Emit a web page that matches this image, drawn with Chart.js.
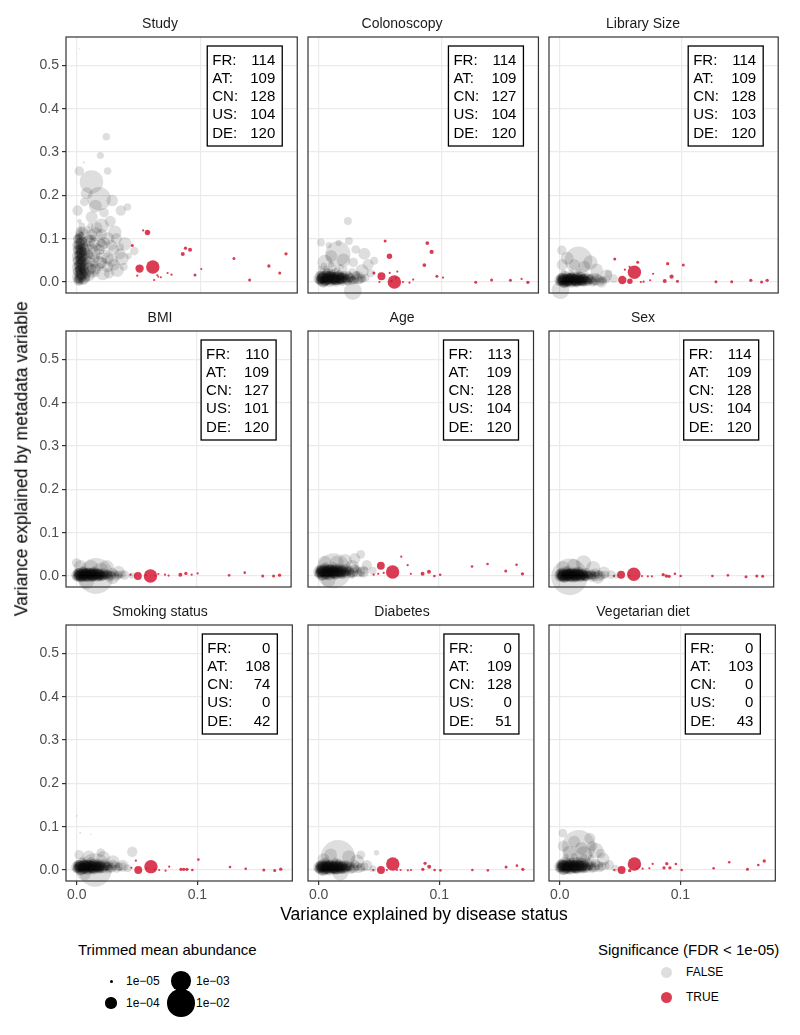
<!DOCTYPE html>
<html>
<head>
<meta charset="utf-8">
<script src="https://cdn.jsdelivr.net/npm/chart.js@4.4.0/dist/chart.umd.min.js"></script>
<style>
  body { margin: 0; background: #fff; font-family: "Liberation Sans", Arial, sans-serif; }
  #wrap { position: relative; width: 800px; height: 1035px; overflow: hidden; }
  #wrap canvas { position: absolute; }
  .txt { position: absolute; white-space: nowrap; color: #000; }
  .dot { position: absolute; border-radius: 50%; }
</style>
</head>
<body>
<div id="wrap"></div>
<script>
// ---- data ----
const panelTitles = ["Study", "Colonoscopy", "Library Size", "BMI", "Age", "Sex",
                     "Smoking status", "Diabetes", "Vegetarian diet"];
const countLabels = ["FR:", "AT:", "CN:", "US:", "DE:"];
const panelCounts = [
  [114, 109, 128, 104, 120], [114, 109, 127, 104, 120], [114, 109, 128, 103, 120],
  [110, 109, 127, 101, 120], [113, 109, 128, 104, 120], [114, 109, 128, 104, 120],
  [0, 108, 74, 0, 42], [0, 109, 128, 0, 51], [0, 103, 0, 0, 43]
];
const xTicks = [0, 0.1];
const yTicks = [0, 0.1, 0.2, 0.3, 0.4, 0.5];
// size legend: log10 of trimmed mean abundance
const sizeBreaks = [-5, -4, -3, -2];
const sizeLabels = ["1e\u221205", "1e\u221204", "1e\u221203", "1e\u221202"];
const sigLabels = ["FALSE", "TRUE"];

// points: [variance by disease, variance by metadata, log10 abundance]
const grayStudy = [
  [.002,.538,-5.2],[.0238,.335,-4.45],[.019,.292,-4.5],[.0056,.276,-5.1],[.0019,.256,-4.2],[.0249,.256,-4.45],
  [.0118,.231,-2.5],[.018,.192,-2.5],[.0286,.188,-3.95],[.0356,.165,-4.1],[.041,.173,-4.45],[.0005,.165,-4.1],
  [.0307,.115,-3.73],[.039,.088,-3.73],[.0465,.0715,-4.3],[.0366,.054,-3.73],[.0326,.027,-3.73],[.021,.02,-3.7],
  [.0015,.012,-3.7],[.008,.205,-3.9],[.015,.175,-3.8],[.022,.16,-4.2],[.006,.185,-4.3],[.027,.14,-4.0],
  [.012,.15,-3.9],[.02,.13,-3.6],[.025,.1,-3.8],[.015,.11,-3.6],[.03,.075,-4.0],[.02,.085,-3.9],
  [.035,.08,-4.4],[.042,.06,-4.6],[.028,.05,-3.8],[.018,.045,-3.7],[.025,.035,-4.0],[.038,.035,-4.4],
  [.014,.065,-3.8],[.01,.095,-3.9],[.01,.03,-3.8],
  [.001,.005,-4.4],[.003,.01,-4.6],[.005,.003,-4.3],[.002,.02,-4.5],[.004,.025,-4.7],[.006,.015,-4.4],
  [.001,.03,-4.6],[.003,.035,-4.4],[.005,.04,-4.8],[.002,.045,-4.5],[.004,.05,-4.3],[.007,.045,-4.6],
  [.001,.055,-4.7],[.003,.06,-4.4],[.006,.058,-4.5],[.002,.068,-4.6],[.004,.072,-4.3],[.008,.07,-4.5],
  [.001,.078,-4.8],[.003,.083,-4.5],[.006,.088,-4.6],[.002,.092,-4.4],[.004,.098,-4.7],[.001,.105,-4.5],
  [.003,.11,-4.6],[.006,.115,-4.4],[.002,.122,-4.7],[.004,.13,-4.6],[.009,.05,-4.4],[.011,.035,-4.5],
  [.009,.02,-4.6],[.008,.008,-4.5],[.012,.06,-4.6],[.01,.08,-4.5],[0,.015,-4.9],[0,.04,-4.8],
  [0,.065,-4.9],[0,.09,-4.8],[.007,.1,-4.7],[.005,.075,-4.6],[.003,0,-4.7],[.002,.14,-4.8],
  [.005,.028,-4.5],[.007,.03,-4.7],[.002,.035,-4.9],[.004,.062,-4.8],[.006,.05,-4.9],[.003,.048,-4.6],
  [.015,.02,-4.4],[.018,.06,-4.5],[.022,.05,-4.6],[.012,.045,-4.3],[.016,.08,-4.4],[.013,.1,-4.5],
  [.02,.07,-4.7],[.024,.065,-4.4],[.008,.12,-4.4],[.011,.13,-4.6],
  [.001,.008,-4.3],[.003,.016,-4.2],[.005,.022,-4.3],[.002,.028,-4.2],[.004,.033,-4.3],[.001,.038,-4.2],
  [.003,.042,-4.3],[.005,.047,-4.2],[.002,.052,-4.3],[.004,.057,-4.2],[.001,.062,-4.3],[.003,.066,-4.2],
  [.005,.07,-4.3],[.002,.075,-4.2],[.004,.08,-4.3],[.001,.085,-4.2],[.003,.09,-4.3],[.005,.095,-4.4],
  [.002,.1,-4.3],[.004,.106,-4.4],[.002,.002,-4.3],[.004,.012,-4.2],[.006,.025,-4.1],[.006,.036,-4.2],
  [.007,.06,-4.3],[.006,.078,-4.2],[.008,.09,-4.4],[0,.025,-4.3],[0,.05,-4.3],[0,.075,-4.3],
  [0,.1,-4.4],[.003,.052,-4.1],[.003,.028,-4.1],[.003,.075,-4.1],[.009,.04,-4.2],[.01,.065,-4.3],
  [.012,.02,-4.2],[.014,.04,-4.3],[.011,.085,-4.4],[.007,.012,-4.2],[.002,.115,-4.4],[.004,.12,-4.5],
  [.001,.004,-4.1],[.003,.009,-4.0],[.002,.014,-4.1],[.004,.019,-4.0],[.001,.024,-4.1],[.003,.029,-4.0],
  [.005,.034,-4.1],[.002,.039,-4.0],[.004,.044,-4.1],[.001,.049,-4.0],[.003,.054,-4.1],[.005,.059,-4.0],
  [.002,.064,-4.1],[.004,.069,-4.0],[.001,.074,-4.1],[.003,.079,-4.0],[.005,.084,-4.1],[.002,.089,-4.0],
  [.004,.094,-4.1],[.001,.099,-4.2],[.003,.104,-4.2],[.002,.109,-4.3],[.006,.007,-4.1],[.006,.03,-4.1],
  [.007,.052,-4.1],[.006,.072,-4.1],[.008,.02,-4.2],[.009,.062,-4.2],[0,.035,-4.1],[0,.06,-4.1],
  [0,.085,-4.2],[.003,.04,-3.9],[.003,.065,-3.9],[.003,.018,-3.9],[.012,.03,-4.2],[.015,.055,-4.3],
  [.018,.035,-4.3],[.02,.09,-4.3],[.01,.1,-4.3],[.013,.075,-4.2],
  [.015,.03,-4.0],[.02,.045,-4.0],[.025,.055,-3.9],[.03,.04,-3.9],[.018,.075,-4.0],[.022,.09,-3.9],
  [.028,.085,-4.0],[.012,.11,-4.0],[.016,.125,-3.9],[.035,.065,-4.0],[.026,.02,-4.1],[.01,.015,-4.0],
  [.014,.09,-4.1],[.032,.1,-4.0],[.02,.11,-4.0]
];
const redStudy = [
  [.0537,.119,-5.1],[.0572,.114,-4.7],[.0449,.084,-5.0],[.0508,.031,-4.35],[.0489,.0146,-5.1],[.0615,.0346,-3.73],
  [.0626,.0046,-5.1],[.0652,.0154,-5.1],[.066,.012,-5.15],[.068,.011,-5.1],[.0735,.0208,-5.1],[.0767,.017,-5.1],
  [.0858,.0646,-4.88],[.088,.078,-4.96],[.0917,.0746,-4.88],[.0957,.0162,-5.0],[.1008,.03,-5.1],[.1273,.054,-5.0],
  [.14,.0046,-5.0],[.1556,.037,-4.96],[.1644,.0208,-5.0],[.1695,.065,-4.96]
];
const grayColonoscopy = [
  [.0236,.1406,-4.4],[.0016,.091,-4.4],[.0244,.0945,-4.4],[.0155,.065,-2.3],[.037,.065,-3.9],[.045,.049,-4.4],
  [.0276,-.021,-3.2],[.03,.075,-4.3],[.04,.04,-4.0],[.035,.025,-3.7],[.02,.05,-3.7],[.01,.06,-3.9],
  [.005,.045,-3.5],[.028,.045,-4.2],[.042,.02,-4.4],[.032,.01,-3.8],[.008,.085,-4.6],[.016,.09,-4.6],
  [.001,0,-4.4],[.004,.005,-4.3],[.007,.002,-4.5],[.01,.008,-4.4],[.013,.003,-4.3],[.016,.01,-4.5],
  [.019,.004,-4.4],[.022,.012,-4.6],[.025,.005,-4.5],[.028,.01,-4.7],[.002,.012,-4.5],[.005,.018,-4.4],
  [.008,.015,-4.6],[.011,.02,-4.5],[.014,.016,-4.4],[.017,.022,-4.6],[.02,.018,-4.5],[.024,.02,-4.7],
  [.003,.025,-4.6],[.006,.03,-4.5],[.009,.026,-4.7],[.012,.032,-4.6],[.015,.028,-4.5],[.018,.035,-4.7],
  [0,.008,-4.6],[0,.02,-4.7],[.002,.004,-4.5],[.006,.009,-4.4],[.009,0,-4.5],[.012,.012,-4.5],
  [.015,0,-4.6],[.018,.014,-4.5],[.021,.007,-4.5],[.026,.015,-4.6],[.03,.004,-4.6],[.033,.012,-4.7],
  [.036,.006,-4.6],[.004,.038,-4.6],[.01,.04,-4.6],[.021,.03,-4.7],[.027,.025,-4.6],[.031,.02,-4.7],
  [.001,.032,-4.8],[.007,.022,-4.3],[.013,.007,-4.2],[.005,0,-4.3],[.01,.015,-4.2],[.017,.005,-4.3],
  [.003,.015,-4.3],[.024,0,-4.5],
  [.001,.004,-4.2],[.003,0,-4.1],[.005,.01,-4.2],[.007,.004,-4.1],[.009,.014,-4.2],[.011,.004,-4.1],
  [.013,.012,-4.2],[.015,.005,-4.1],[.017,.016,-4.2],[.019,.007,-4.2],[.021,.015,-4.3],[.023,.003,-4.3],
  [.025,.01,-4.3],[.002,.016,-4.2],[.006,.02,-4.2],[.01,.019,-4.2],[.014,.022,-4.3],[.018,.012,-4.3],
  [.004,-.002,-4.2],[.008,.008,-4.0],[.012,.008,-4.0],[.016,.009,-4.1],[.02,.011,-4.2],[0,.005,-4.3],
  [.006,.006,-4.0],[.014,.001,-4.1],[.022,.008,-4.4],[.027,.005,-4.4],[.003,.01,-4.0],[.009,.001,-4.0],
  [.017,.003,-4.3],[.011,.012,-4.1],[.005,.002,-4.1],[.019,.001,-4.3],[.024,.015,-4.4],[.007,.014,-4.1],
  [.013,.006,-4.0],[.002,.008,-4.1],
  [0,.008,-4.0],[.002,.005,-4.1],[.004,.01,-4.0],[.006,.006,-4.1],[.008,.012,-4.0],[.01,.006,-4.1],
  [.012,.01,-4.0],[.014,.006,-4.1],[.016,.011,-4.0],[.018,.006,-4.1],[.02,.01,-4.2],[.022,.007,-4.2],
  [.001,.013,-4.1],[.003,.008,-4.0],[.005,.003,-4.1],[.007,.009,-4.0],[.009,.014,-4.1],[.011,.008,-4.0],
  [.013,.004,-4.1],[.015,.012,-4.0],[.017,.008,-4.1],[.019,.013,-4.2],[.021,.004,-4.2],[.025,.009,-4.3],
  [.003,.011,-3.9],[.008,.008,-3.9],[.013,.009,-3.9],[.018,.009,-4.0],[.006,.013,-4.0],[.011,.011,-4.0],
  [.026,.01,-4.2],[.029,.006,-4.2],[.032,.011,-4.3],[.035,.008,-4.3],[.038,.01,-4.4],[.03,.015,-4.3],
  [.027,.003,-4.3],[.033,.004,-4.4]
];
const redColonoscopy = [
  [.0539,.0945,-5.0],[.0574,.0594,-4.7],[.0448,.021,-5.0],[.0509,.0133,-4.4],[.0493,0,-5.1],[.0576,.021,-5.1],
  [.0638,.024,-5.1],[.0614,0,-3.73],[.059,.002,-5.1],[.0628,.009,-5.15],[.0684,0,-5.1],[.0737,-.0016,-5.1],
  [.0767,.0055,-5.1],[.0858,.039,-4.9],[.0882,.0898,-4.9],[.0917,.0695,-4.85],[.096,.0133,-5.0],[.101,.0102,-5.1],
  [.1276,-.0008,-5.0],[.1405,.0047,-5.0],[.1558,.0039,-5.0],[.1649,.007,-5.1],[.17,-.0008,-4.96]
];
const grayLibrary = [
  [.0153,.05,-2.0],[.0016,.073,-4.2],[.0005,-.019,-3.2],[.006,.055,-3.8],[.025,.045,-3.6],[.03,.028,-3.8],
  [.038,.015,-3.9],[.044,.008,-4.3],[.02,.035,-3.9],[.012,.04,-4.0],[.034,0,-4.0],[.04,.02,-4.5],[.002,.04,-4.0],
  [0,0,-4.3],[.003,.006,-4.4],[.006,0,-4.3],[.009,.008,-4.4],[.012,.002,-4.3],[.015,.009,-4.5],
  [.018,.001,-4.4],[.021,.007,-4.5],[.024,0,-4.6],[.027,.006,-4.6],[.001,.013,-4.5],[.004,.017,-4.4],
  [.007,.012,-4.5],[.01,.016,-4.6],[.013,.013,-4.4],[.016,.018,-4.6],[.019,.012,-4.5],[.022,.016,-4.7],
  [.025,.011,-4.6],[.002,-.004,-4.5],[.005,.004,-4.3],[.008,-.003,-4.5],[.011,.005,-4.3],[.014,-.002,-4.5],
  [.017,.005,-4.4],[.02,-.003,-4.6],[.023,.004,-4.5],[.029,0,-4.6],[.032,.008,-4.6],[.035,.003,-4.7],
  [.003,.022,-4.6],[.009,.022,-4.7],[.015,.024,-4.7],[0,.009,-4.5],[.004,0,-4.2],[.01,.01,-4.2],
  [.016,.003,-4.3],[.007,.006,-4.2],[.013,.007,-4.2],[.02,.01,-4.4],[.026,.015,-4.7],[.03,.013,-4.8],
  [.001,.003,-4.6],[.005,.011,-4.6],[.018,.015,-4.5],
  [.001,.002,-4.2],[.003,-.002,-4.1],[.005,.007,-4.2],[.007,.001,-4.1],[.009,.01,-4.2],[.011,.001,-4.1],
  [.013,.009,-4.2],[.015,.002,-4.1],[.017,.012,-4.2],[.019,.004,-4.2],[.021,.011,-4.3],[.023,0,-4.3],
  [.025,.007,-4.3],[.002,.01,-4.2],[.006,.013,-4.2],[.01,.012,-4.2],[.014,.014,-4.3],[.018,.008,-4.3],
  [.004,-.004,-4.2],[.008,.005,-4.0],[.012,.005,-4.0],[.016,.006,-4.1],[.02,.007,-4.2],[0,.003,-4.3],
  [.006,.003,-4.0],[.014,-.001,-4.1],[.022,.004,-4.4],[.027,.002,-4.4],[.003,.006,-4.0],[.009,-.001,-4.0],
  [.017,0,-4.3],[.011,.008,-4.1],[.005,0,-4.1],[.019,-.001,-4.3],[.024,.01,-4.4],[.007,.009,-4.1],
  [.013,.003,-4.0],[.002,.005,-4.1],
  [0,.004,-4.0],[.002,.002,-4.1],[.004,.006,-4.0],[.006,.003,-4.1],[.008,.007,-4.0],[.01,.002,-4.1],
  [.012,.006,-4.0],[.014,.003,-4.1],[.016,.006,-4.0],[.018,.002,-4.1],[.02,.006,-4.2],[.022,.003,-4.2],
  [.001,.008,-4.1],[.003,.004,-4.0],[.005,0,-4.1],[.007,.005,-4.0],[.009,.009,-4.1],[.011,.004,-4.0],
  [.013,0,-4.1],[.015,.007,-4.0],[.017,.004,-4.1],[.019,.008,-4.2],[.021,.001,-4.2],[.024,.005,-4.3],
  [.003,.007,-3.9],[.008,.004,-3.9],[.013,.005,-3.9],[.018,.005,-4.0],[.006,.008,-4.0],[.011,.007,-4.0],
  [.026,.006,-4.2],[.029,.002,-4.2],[.032,.007,-4.3],[.035,.004,-4.3],[.038,.006,-4.4],[.03,.011,-4.3],
  [.027,-.001,-4.3],[.033,0,-4.4]
];
const redLibrary = [
  [.0449,.053,-5.0],[.0637,.0454,-5.0],[.0882,.0423,-4.96],[.101,.039,-5.0],[.0532,.0285,-5.1],[.057,.035,-5.1],
  [.061,.0223,-3.73],[.0511,.0046,-4.35],[.0573,.0015,-4.7],[.0763,.019,-5.1],[.0914,.0123,-4.85],[.0739,.004,-5.1],
  [.0663,0,-5.1],[.0685,.0008,-5.1],[.0858,.0023,-4.88],[.0962,.0015,-5.0],[.1277,.0008,-5.0],[.1406,.0008,-5.0],
  [.1562,.0038,-4.96],[.165,0,-5.0],[.1696,.0038,-4.96]
];
const grayBMI = [
  [.016,0,-1.0],[.003,.022,-3.8],[.025,.02,-3.6],[.035,.01,-3.9],[.04,.002,-4.2],[.046,.001,-4.6],
  [.008,-.012,-3.4],[.012,.02,-3.6],[.02,.012,-3.4],[.03,-.004,-3.8],[0,.03,-4.2],
  [0,0,-4.3],[.003,.005,-4.4],[.006,-.002,-4.3],[.009,.006,-4.4],[.012,0,-4.3],[.015,.007,-4.5],
  [.018,-.001,-4.4],[.021,.005,-4.5],[.024,-.002,-4.6],[.027,.004,-4.6],[.001,.011,-4.5],[.004,.013,-4.4],
  [.007,.009,-4.5],[.01,.012,-4.6],[.013,.01,-4.4],[.016,.013,-4.6],[.019,.009,-4.5],[.022,.012,-4.7],
  [.002,-.006,-4.5],[.005,.002,-4.3],[.008,-.006,-4.5],[.011,.004,-4.3],[.014,-.004,-4.5],[.017,.003,-4.4],
  [.02,-.005,-4.6],[.023,.002,-4.5],[.026,.008,-4.6],[.03,.002,-4.6],[.033,.006,-4.7],[.036,0,-4.7],
  [.004,0,-4.2],[.01,.003,-4.2],[.016,.001,-4.3],[.007,.004,-4.2],[.013,.005,-4.2],[0,.007,-4.5],
  [.028,-.003,-4.7],[.006,.016,-4.6],[.014,.016,-4.7],[.02,.002,-4.4],
  [.001,.002,-4.2],[.003,-.002,-4.1],[.005,.006,-4.2],[.007,0,-4.1],[.009,.004,-4.2],[.011,-.002,-4.1],
  [.013,.007,-4.2],[.015,.002,-4.1],[.017,-.003,-4.2],[.019,.004,-4.2],[.021,0,-4.3],[.023,.006,-4.3],
  [.025,.001,-4.3],[.002,.008,-4.2],[.006,.01,-4.2],[.01,.009,-4.2],[.014,.01,-4.3],[.018,.008,-4.3],
  [.004,-.004,-4.2],[.008,.002,-4.0],[.012,.003,-4.0],[.016,.005,-4.1],[.02,.003,-4.2],[0,-.003,-4.3],
  [.006,.003,-4.0],[.014,-.001,-4.1],[.022,-.002,-4.4],[.027,.003,-4.4],[.003,.003,-4.0],[.009,-.001,-4.0],
  [.017,.008,-4.3],[.011,.007,-4.1],[.005,-.001,-4.1],[.019,-.001,-4.3],[.024,.004,-4.4],[.007,.007,-4.1],
  [.013,.001,-4.0],[.002,0,-4.1],
  [0,.002,-4.0],[.002,0,-4.1],[.004,.004,-4.0],[.006,.001,-4.1],[.008,.005,-4.0],[.01,0,-4.1],
  [.012,.004,-4.0],[.014,.001,-4.1],[.016,.004,-4.0],[.018,0,-4.1],[.02,.004,-4.2],[.022,.001,-4.2],
  [.001,.006,-4.1],[.003,.002,-4.0],[.005,-.002,-4.1],[.007,.003,-4.0],[.009,.007,-4.1],[.011,.002,-4.0],
  [.013,-.002,-4.1],[.015,.005,-4.0],[.017,.002,-4.1],[.019,.006,-4.2],[.021,-.001,-4.2],[.024,.003,-4.3],
  [.003,.005,-3.9],[.008,.002,-3.9],[.013,.003,-3.9],[.018,.003,-4.0],[.006,.006,-4.0],[.011,.005,-4.0],
  [.026,.004,-4.2],[.029,0,-4.2],[.032,.005,-4.3],[.035,.002,-4.3],[.038,.004,-4.4],[.03,.009,-4.3],
  [.027,-.003,-4.3],[.033,-.002,-4.4]
];
const redBMI = [
  [.0449,.003,-5.1],[.051,0,-4.4],[.0615,0,-3.73],[.068,.0046,-5.1],[.0736,.003,-5.1],[.0766,.001,-5.1],
  [.0864,.003,-4.88],[.091,.006,-4.96],[.0958,.003,-5.1],[.1008,.006,-5.1],[.127,.0015,-5.05],[.14,.0077,-5.05],
  [.155,0,-5.0],[.164,0,-5.0],[.169,.002,-4.96],[.0575,.002,-5.15],[.0655,.001,-5.15]
];
const grayAge = [
  [.0125,.012,-1.1],[.035,.05,-4.3],[.03,.04,-4.0],[.022,.035,-3.7],[.04,.025,-4.1],[.045,.012,-4.4],
  [.005,.032,-3.8],[.015,.03,-3.6],[.028,.02,-3.6],[.037,.01,-3.9],[.008,-.01,-3.6],
  [0,.003,-4.3],[.003,.008,-4.4],[.006,.002,-4.3],[.009,.011,-4.4],[.012,.004,-4.3],[.015,.012,-4.5],
  [.018,.005,-4.4],[.021,.013,-4.5],[.024,.006,-4.6],[.027,.012,-4.6],[.001,.016,-4.5],[.004,.02,-4.4],
  [.007,.016,-4.5],[.01,.021,-4.6],[.013,.018,-4.4],[.016,.023,-4.6],[.019,.019,-4.5],[.022,.022,-4.7],
  [.002,-.003,-4.5],[.005,.007,-4.3],[.008,-.002,-4.5],[.011,.009,-4.3],[.014,0,-4.5],[.017,.008,-4.4],
  [.02,0,-4.6],[.023,.009,-4.5],[.026,.017,-4.6],[.03,.006,-4.6],[.033,.014,-4.7],[.036,.004,-4.7],
  [.004,.012,-4.2],[.01,.006,-4.2],[.016,.015,-4.3],[.007,.008,-4.2],[.013,.012,-4.2],[0,.011,-4.5],
  [.028,0,-4.7],[.006,.025,-4.6],[.012,.027,-4.7],[.02,.007,-4.4],[.031,.022,-4.8],
  [.001,.006,-4.2],[.003,.002,-4.1],[.005,.011,-4.2],[.007,.004,-4.1],[.009,.015,-4.2],[.011,.005,-4.1],
  [.013,.013,-4.2],[.015,.006,-4.1],[.017,.017,-4.2],[.019,.008,-4.2],[.021,.016,-4.3],[.023,.004,-4.3],
  [.025,.011,-4.3],[.002,.014,-4.2],[.006,.018,-4.2],[.01,.016,-4.2],[.014,.019,-4.3],[.018,.012,-4.3],
  [.004,0,-4.2],[.008,.009,-4.0],[.012,.009,-4.0],[.016,.01,-4.1],[.02,.012,-4.2],[0,.007,-4.3],
  [.006,.007,-4.0],[.014,.003,-4.1],[.022,.008,-4.4],[.027,.006,-4.4],[.003,.01,-4.0],[.009,.003,-4.0],
  [.017,.004,-4.3],[.011,.012,-4.1],[.005,.004,-4.1],[.019,.003,-4.3],[.024,.015,-4.4],[.007,.013,-4.1],
  [.013,.007,-4.0],[.002,.009,-4.1],
  [0,.01,-4.0],[.002,.008,-4.1],[.004,.012,-4.0],[.006,.009,-4.1],[.008,.013,-4.0],[.01,.008,-4.1],
  [.012,.012,-4.0],[.014,.009,-4.1],[.016,.012,-4.0],[.018,.008,-4.1],[.02,.012,-4.2],[.022,.009,-4.2],
  [.001,.014,-4.1],[.003,.01,-4.0],[.005,.006,-4.1],[.007,.011,-4.0],[.009,.015,-4.1],[.011,.01,-4.0],
  [.013,.006,-4.1],[.015,.013,-4.0],[.017,.01,-4.1],[.019,.014,-4.2],[.021,.007,-4.2],[.024,.011,-4.3],
  [.003,.013,-3.9],[.008,.01,-3.9],[.013,.011,-3.9],[.018,.011,-4.0],[.006,.014,-4.0],[.011,.013,-4.0],
  [.026,.012,-4.2],[.029,.008,-4.2],[.032,.013,-4.3],[.035,.01,-4.3],[.038,.012,-4.4],[.03,.017,-4.3],
  [.027,.005,-4.3],[.033,.006,-4.4]
];
const redAge = [
  [.0687,.0446,-5.1],[.0517,.0238,-4.4],[.074,.025,-5.1],[.0615,.0092,-3.73],[.0457,.003,-5.1],[.0495,.005,-5.1],
  [.0541,.007,-5.1],[.0766,.005,-5.1],[.0864,.005,-4.88],[.0917,.01,-4.88],[.0962,0,-5.05],[.101,.003,-5.05],
  [.1275,.022,-5.05],[.1404,.0277,-5.05],[.1555,.0115,-5.0],[.1645,.026,-5.05],[.1694,.005,-4.96]
];
const graySex = [
  [.0083,-.002,-0.9],[.02,.03,-3.5],[.028,.018,-3.6],[.037,.008,-3.9],[.043,.003,-4.3],[.003,.02,-3.8],
  [.012,.024,-3.7],[.032,-.003,-3.8],[.047,0,-4.7],
  [.001,0,-4.3],[.004,.006,-4.4],[.007,-.001,-4.3],[.01,.007,-4.4],[.013,.001,-4.3],[.016,.008,-4.5],
  [.019,0,-4.4],[.022,.006,-4.5],[.025,-.001,-4.6],[.028,.005,-4.6],[.002,.012,-4.5],[.005,.014,-4.4],
  [.008,.01,-4.5],[.011,.013,-4.6],[.014,.011,-4.4],[.017,.014,-4.6],[.02,.01,-4.5],[.023,.013,-4.7],
  [.003,-.005,-4.5],[.006,.003,-4.3],[.009,-.005,-4.5],[.012,.005,-4.3],[.015,-.003,-4.5],[.018,.004,-4.4],
  [.021,-.004,-4.6],[.024,.003,-4.5],[.027,.009,-4.6],[.031,.003,-4.6],[.034,.007,-4.7],[0,.004,-4.2],
  [.005,.001,-4.2],[.011,.003,-4.2],[.017,.002,-4.3],[.008,.005,-4.2],[.014,.006,-4.2],[0,.009,-4.5],
  [.029,-.002,-4.7],[.007,.017,-4.6],[.015,.016,-4.7],[.021,.003,-4.4],
  [.001,.001,-4.2],[.003,-.003,-4.1],[.005,.005,-4.2],[.007,-.001,-4.1],[.009,.003,-4.2],[.011,-.003,-4.1],
  [.013,.006,-4.2],[.015,.001,-4.1],[.017,-.004,-4.2],[.019,.003,-4.2],[.021,-.001,-4.3],[.023,.005,-4.3],
  [.026,0,-4.3],[.002,.007,-4.2],[.006,.009,-4.2],[.01,.008,-4.2],[.014,.009,-4.3],[.018,.007,-4.3],
  [.004,-.005,-4.2],[.008,.001,-4.0],[.012,.002,-4.0],[.016,.004,-4.1],[.02,.002,-4.2],[0,-.004,-4.3],
  [.006,.002,-4.0],[.014,-.002,-4.1],[.022,-.003,-4.4],[.028,.002,-4.4],[.003,.002,-4.0],[.009,-.002,-4.0],
  [.017,.007,-4.3],[.011,.006,-4.1],[.005,-.002,-4.1],[.019,-.002,-4.3],[.025,.003,-4.4],[.007,.006,-4.1],
  [.013,0,-4.0],[.002,-.001,-4.1],
  [0,.001,-4.0],[.002,-.001,-4.1],[.004,.003,-4.0],[.006,0,-4.1],[.008,.004,-4.0],[.01,-.001,-4.1],
  [.012,.003,-4.0],[.014,0,-4.1],[.016,.003,-4.0],[.018,-.001,-4.1],[.02,.003,-4.2],[.022,0,-4.2],
  [.001,.005,-4.1],[.003,.001,-4.0],[.005,-.003,-4.1],[.007,.002,-4.0],[.009,.006,-4.1],[.011,.001,-4.0],
  [.013,-.003,-4.1],[.015,.004,-4.0],[.017,.001,-4.1],[.019,.005,-4.2],[.021,-.002,-4.2],[.024,.002,-4.3],
  [.003,.004,-3.9],[.008,.001,-3.9],[.013,.002,-3.9],[.018,.002,-4.0],[.006,.005,-4.0],[.011,.004,-4.0],
  [.026,.003,-4.2],[.029,-.001,-4.2],[.032,.004,-4.3],[.035,.001,-4.3],[.038,.003,-4.4],[.03,.008,-4.3],
  [.027,-.004,-4.3],[.033,-.003,-4.4]
];
const redSex = [
  [.0453,0,-5.1],[.0513,.003,-4.4],[.0619,.004,-3.73],[.0687,0,-5.1],[.0736,-.0008,-5.1],[.077,-.0008,-5.1],
  [.0864,.003,-4.96],[.089,0,-4.96],[.0913,-.0008,-4.96],[.0962,.005,-5.05],[.101,0,-5.05],[.1275,0,-5.05],
  [.1404,.0015,-5.05],[.1555,-.0015,-5.0],[.1645,0,-5.0],[.1694,-.0008,-5.0],[.058,.001,-5.15]
];
const graySmoking = [
  [.0153,0,-1.3],[0,.125,-5.15],[.003,.086,-5.1],[.0117,.082,-5.2],[.046,.042,-4.1],[.002,.035,-4.2],
  [.01,.03,-3.8],[.022,.028,-3.7],[.03,.018,-3.7],[.038,.01,-3.9],[.042,.004,-4.4],[.006,-.008,-3.6],[.02,.04,-4.3],
  [0,.002,-4.3],[.003,.007,-4.4],[.006,.001,-4.3],[.009,.01,-4.4],[.012,.003,-4.3],[.015,.011,-4.5],
  [.018,.004,-4.4],[.021,.011,-4.5],[.024,.004,-4.6],[.027,.01,-4.6],[.001,.015,-4.5],[.004,.019,-4.4],
  [.007,.015,-4.5],[.01,.02,-4.6],[.013,.016,-4.4],[.016,.02,-4.6],[.019,.017,-4.5],[.023,.019,-4.7],
  [.002,-.003,-4.5],[.005,.006,-4.3],[.008,-.002,-4.5],[.011,.008,-4.3],[.014,0,-4.5],[.017,.007,-4.4],
  [.02,0,-4.6],[.025,.008,-4.5],[.028,.015,-4.7],[.031,.005,-4.6],[.034,.011,-4.7],[.004,.01,-4.2],
  [.01,.005,-4.2],[.016,.013,-4.3],[.007,.007,-4.2],[.013,.009,-4.2],[0,.01,-4.5],[.005,.024,-4.6],
  [.012,.025,-4.7],[.02,.006,-4.4],[.036,.002,-4.8],
  [.001,.004,-4.2],[.003,0,-4.1],[.005,.009,-4.2],[.007,.003,-4.1],[.009,.012,-4.2],[.011,.003,-4.1],
  [.013,.011,-4.2],[.015,.004,-4.1],[.017,.014,-4.2],[.019,.006,-4.2],[.021,.013,-4.3],[.023,.002,-4.3],
  [.025,.009,-4.3],[.002,.012,-4.2],[.006,.015,-4.2],[.01,.013,-4.2],[.014,.016,-4.3],[.018,.01,-4.3],
  [.004,-.002,-4.2],[.008,.007,-4.0],[.012,.007,-4.0],[.016,.008,-4.1],[.02,.01,-4.2],[0,.005,-4.3],
  [.006,.005,-4.0],[.014,.001,-4.1],[.022,.006,-4.4],[.027,.004,-4.4],[.003,.008,-4.0],[.009,.001,-4.0],
  [.017,.002,-4.3],[.011,.01,-4.1],[.005,.002,-4.1],[.019,.001,-4.3],[.024,.013,-4.4],[.007,.011,-4.1],
  [.013,.005,-4.0],[.002,.007,-4.1],
  [0,.007,-4.0],[.002,.005,-4.1],[.004,.009,-4.0],[.006,.006,-4.1],[.008,.01,-4.0],[.01,.005,-4.1],
  [.012,.009,-4.0],[.014,.006,-4.1],[.016,.009,-4.0],[.018,.005,-4.1],[.02,.009,-4.2],[.022,.006,-4.2],
  [.001,.011,-4.1],[.003,.007,-4.0],[.005,.003,-4.1],[.007,.008,-4.0],[.009,.012,-4.1],[.011,.007,-4.0],
  [.013,.003,-4.1],[.015,.01,-4.0],[.017,.007,-4.1],[.019,.011,-4.2],[.021,.004,-4.2],[.024,.008,-4.3],
  [.003,.01,-3.9],[.008,.007,-3.9],[.013,.008,-3.9],[.018,.008,-4.0],[.006,.011,-4.0],[.011,.01,-4.0],
  [.026,.009,-4.2],[.029,.005,-4.2],[.032,.01,-4.3],[.035,.007,-4.3],[.038,.009,-4.4],[.03,.014,-4.3],
  [.027,.002,-4.3],[.033,.003,-4.4]
];
const redSmoking = [
  [.049,.0215,-5.1],[.0453,.005,-5.1],[.051,0,-4.4],[.0615,.0077,-3.73],[.0683,0,-5.1],[.0736,-.0015,-5.1],
  [.0766,.0077,-5.1],[.0864,.0015,-4.96],[.0887,.0015,-4.96],[.0913,.0015,-4.96],[.0958,0,-5.05],[.1008,.024,-5.05],
  [.127,.007,-5.05],[.14,.003,-5.05],[.155,0,-5.0],[.164,-.001,-5.0],[.169,.002,-4.96],[.058,.004,-5.15],[.0645,.002,-5.15]
];
const grayDiabetes = [
  [.016,.03,-1.2],[.048,.04,-4.7],[.01,.035,-3.8],[.025,.03,-3.7],[.032,.02,-3.7],[.04,.01,-4.0],
  [.045,.003,-4.5],[.004,.025,-3.9],[.018,-.006,-3.4],[.035,.035,-4.3],
  [0,.001,-4.3],[.003,.006,-4.4],[.006,0,-4.3],[.009,.009,-4.4],[.012,.002,-4.3],[.015,.01,-4.5],
  [.018,.003,-4.4],[.021,.01,-4.5],[.024,.003,-4.6],[.027,.009,-4.6],[.001,.014,-4.5],[.004,.018,-4.4],
  [.007,.014,-4.5],[.01,.018,-4.6],[.013,.015,-4.4],[.016,.019,-4.6],[.019,.015,-4.5],[.023,.017,-4.7],
  [.002,-.004,-4.5],[.005,.005,-4.3],[.008,-.003,-4.5],[.011,.007,-4.3],[.014,-.001,-4.5],[.017,.006,-4.4],
  [.02,-.002,-4.6],[.025,.006,-4.5],[.028,.013,-4.7],[.031,.004,-4.6],[.034,.009,-4.7],[.004,.009,-4.2],
  [.01,.004,-4.2],[.016,.012,-4.3],[.007,.006,-4.2],[.013,.008,-4.2],[0,.009,-4.5],[.006,.022,-4.6],
  [.014,.023,-4.7],[.021,.005,-4.4],[.037,.001,-4.8],
  [.001,.003,-4.2],[.003,-.001,-4.1],[.005,.008,-4.2],[.007,.002,-4.1],[.009,.011,-4.2],[.011,.002,-4.1],
  [.013,.01,-4.2],[.015,.003,-4.1],[.017,.013,-4.2],[.019,.005,-4.2],[.021,.012,-4.3],[.023,.001,-4.3],
  [.025,.008,-4.3],[.002,.011,-4.2],[.006,.014,-4.2],[.01,.012,-4.2],[.014,.015,-4.3],[.018,.009,-4.3],
  [.004,-.003,-4.2],[.008,.006,-4.0],[.012,.006,-4.0],[.016,.007,-4.1],[.02,.009,-4.2],[0,.004,-4.3],
  [.006,.004,-4.0],[.014,0,-4.1],[.022,.005,-4.4],[.027,.003,-4.4],[.003,.007,-4.0],[.009,0,-4.0],
  [.017,.001,-4.3],[.011,.009,-4.1],[.005,.001,-4.1],[.019,0,-4.3],[.024,.012,-4.4],[.007,.01,-4.1],
  [.013,.004,-4.0],[.002,.006,-4.1],
  [0,.006,-4.0],[.002,.004,-4.1],[.004,.008,-4.0],[.006,.005,-4.1],[.008,.009,-4.0],[.01,.004,-4.1],
  [.012,.008,-4.0],[.014,.005,-4.1],[.016,.008,-4.0],[.018,.004,-4.1],[.02,.008,-4.2],[.022,.005,-4.2],
  [.001,.01,-4.1],[.003,.006,-4.0],[.005,.002,-4.1],[.007,.007,-4.0],[.009,.011,-4.1],[.011,.006,-4.0],
  [.013,.002,-4.1],[.015,.009,-4.0],[.017,.006,-4.1],[.019,.01,-4.2],[.021,.003,-4.2],[.024,.007,-4.3],
  [.003,.009,-3.9],[.008,.006,-3.9],[.013,.007,-3.9],[.018,.007,-4.0],[.006,.01,-4.0],[.011,.009,-4.0],
  [.026,.008,-4.2],[.029,.004,-4.2],[.032,.009,-4.3],[.035,.006,-4.3],[.038,.008,-4.4],[.03,.013,-4.3],
  [.027,.001,-4.3],[.033,.002,-4.4]
];
const redDiabetes = [
  [.0517,0,-4.4],[.0615,.014,-3.73],[.0453,0,-5.1],[.0566,0,-5.1],[.065,0,-5.1],[.068,0,-5.1],
  [.074,-.0008,-5.1],[.0766,0,-5.1],[.0864,.0015,-4.96],[.0883,.0154,-4.96],[.0917,.0077,-4.88],[.0962,0,-5.05],
  [.101,-.0008,-5.05],[.1275,0,-5.05],[.1404,-.0008,-5.05],[.1555,.007,-5.0],[.1645,.01,-5.05],[.1694,.0015,-4.96]
];
const grayVegetarian = [
  [.0158,.054,-1.3],[.0026,.085,-4.3],[.025,.073,-4.0],[.03,.045,-3.5],[.02,.035,-3.3],[.036,.025,-3.8],
  [.041,.012,-4.2],[.046,.004,-4.5],[.008,.04,-3.7],[.012,.065,-3.9],[.003,.055,-4.0],[.027,.055,-4.1],
  [.018,.05,-3.8],[.034,.038,-4.2],
  [0,.002,-4.3],[.003,.008,-4.4],[.006,.001,-4.3],[.009,.011,-4.4],[.012,.003,-4.3],[.015,.012,-4.5],
  [.018,.005,-4.4],[.021,.013,-4.5],[.024,.005,-4.6],[.027,.012,-4.6],[.001,.017,-4.5],[.004,.022,-4.4],
  [.007,.017,-4.5],[.01,.023,-4.6],[.013,.019,-4.4],[.016,.024,-4.6],[.019,.02,-4.5],[.023,.023,-4.7],
  [.002,-.003,-4.5],[.005,.006,-4.3],[.008,-.002,-4.5],[.011,.008,-4.3],[.014,0,-4.5],[.017,.008,-4.4],
  [.02,0,-4.6],[.025,.009,-4.5],[.028,.018,-4.7],[.031,.006,-4.6],[.034,.013,-4.7],[.004,.012,-4.2],
  [.01,.005,-4.2],[.016,.015,-4.3],[.007,.008,-4.2],[.013,.01,-4.2],[0,.011,-4.5],[.005,.03,-4.6],
  [.012,.032,-4.6],[.02,.03,-4.6],[.02,.007,-4.4],[.026,.028,-4.6],
  [.001,.005,-4.2],[.003,.001,-4.1],[.005,.011,-4.2],[.007,.004,-4.1],[.009,.015,-4.2],[.011,.004,-4.1],
  [.013,.013,-4.2],[.015,.005,-4.1],[.017,.017,-4.2],[.019,.007,-4.2],[.021,.016,-4.3],[.023,.003,-4.3],
  [.025,.011,-4.3],[.002,.014,-4.2],[.006,.018,-4.2],[.01,.017,-4.2],[.014,.02,-4.3],[.018,.012,-4.3],
  [.004,-.001,-4.2],[.008,.008,-4.0],[.012,.008,-4.0],[.016,.01,-4.1],[.02,.012,-4.2],[0,.006,-4.3],
  [.006,.006,-4.0],[.014,.002,-4.1],[.022,.008,-4.4],[.027,.005,-4.4],[.003,.01,-4.0],[.009,.002,-4.0],
  [.017,.003,-4.3],[.011,.012,-4.1],[.005,.003,-4.1],[.019,.002,-4.3],[.024,.016,-4.4],[.007,.014,-4.1],
  [.013,.006,-4.0],[.002,.009,-4.1],
  [0,.008,-4.0],[.002,.006,-4.1],[.004,.01,-4.0],[.006,.007,-4.1],[.008,.011,-4.0],[.01,.006,-4.1],
  [.012,.01,-4.0],[.014,.007,-4.1],[.016,.01,-4.0],[.018,.006,-4.1],[.02,.01,-4.2],[.022,.007,-4.2],
  [.001,.012,-4.1],[.003,.008,-4.0],[.005,.004,-4.1],[.007,.009,-4.0],[.009,.013,-4.1],[.011,.008,-4.0],
  [.013,.004,-4.1],[.015,.011,-4.0],[.017,.008,-4.1],[.019,.012,-4.2],[.021,.005,-4.2],[.024,.009,-4.3],
  [.003,.011,-3.9],[.008,.008,-3.9],[.013,.009,-3.9],[.018,.009,-4.0],[.006,.012,-4.0],[.011,.011,-4.0],
  [.026,.01,-4.2],[.029,.006,-4.2],[.032,.011,-4.3],[.035,.008,-4.3],[.038,.01,-4.4],[.03,.016,-4.3],
  [.027,.003,-4.3],[.033,.004,-4.4]
];
const redVegetarian = [
  [.0513,0,-4.4],[.0619,.014,-3.73],[.0453,0,-5.1],[.058,-.0015,-4.96],[.0687,.003,-5.1],[.0743,.004,-5.1],
  [.077,.014,-5.1],[.0864,.005,-4.96],[.0887,.0146,-4.96],[.0913,.005,-4.96],[.0962,.014,-5.05],[.101,0,-5.05],
  [.1275,.004,-5.05],[.1404,.018,-5.05],[.1555,.002,-5.0],[.1645,.0115,-5.05],[.1694,.0208,-4.96],
  [.064,.004,-5.15],[.066,.008,-5.15]
];

const grayPoints = [grayStudy, grayColonoscopy, grayLibrary, grayBMI, grayAge, graySex,
                    graySmoking, grayDiabetes, grayVegetarian];
const redPoints = [redStudy, redColonoscopy, redLibrary, redBMI, redAge, redSex,
                   redSmoking, redDiabetes, redVegetarian];

// ---- layout ----
const FONT = '"Liberation Sans", Arial, sans-serif';
const colLeft = [66, 308, 549];
const rowTop = [37, 331, 625];
const PW = 233, PH = 256;          // panel box
const AXW = 45, AXH = 24, TTL = 24, PADR = 10;
const GRAY = 'rgba(0,0,0,0.13)';
const RED = 'rgba(210,18,45,0.82)';

function radius(l) { return 1.5 + 4.1 * (l + 5); }
function toBubbles(list) {
  return list.map(p => ({ x: p[0], y: p[1], r: radius(p[2]) }));
}

// panel border + count box
const frame = {
  id: 'frame',
  afterDatasetsDraw(chart, args, opts) {
    const a = chart.chartArea, ctx = chart.ctx;
    ctx.save();
    ctx.strokeStyle = '#333';
    ctx.lineWidth = 1.2;
    ctx.strokeRect(a.left, a.top, a.right - a.left, a.bottom - a.top);
    const bw = 75, bh = 100;
    const bx = a.right - 15 - bw, by = a.top + 9;
    ctx.fillStyle = '#fff';
    ctx.fillRect(bx, by, bw, bh);
    ctx.strokeStyle = '#000';
    ctx.lineWidth = 1.3;
    ctx.strokeRect(bx, by, bw, bh);
    ctx.fillStyle = '#000';
    ctx.font = '15px ' + FONT;
    ctx.textBaseline = 'middle';
    countLabels.forEach((lab, i) => {
      const yy = by + 14.5 + i * 18.25;
      ctx.textAlign = 'left';
      ctx.fillText(lab, bx + 5, yy);
      ctx.textAlign = 'right';
      ctx.fillText(String(opts.counts[i]), bx + bw - 7, yy);
    });
    ctx.restore();
  }
};

const wrap = document.getElementById('wrap');

panelTitles.forEach((title, i) => {
  const row = Math.floor(i / 3), col = i % 3;
  const cv = document.createElement('canvas');
  cv.width = AXW + PW + PADR;
  cv.height = TTL + PH + AXH;
  cv.style.left = (colLeft[col] - AXW) + 'px';
  cv.style.top = (rowTop[row] - TTL) + 'px';
  wrap.appendChild(cv);

  new Chart(cv, {
    type: 'bubble',
    data: {
      datasets: [
        { data: toBubbles(grayPoints[i]), backgroundColor: GRAY, borderWidth: 0, clip: false },
        { data: toBubbles(redPoints[i]), backgroundColor: RED, borderWidth: 0, clip: false }
      ]
    },
    options: {
      responsive: false,
      animation: false,
      events: [],
      layout: { padding: { left: 0, right: PADR, top: 0, bottom: 0 } },
      plugins: {
        legend: { display: false },
        tooltip: { enabled: false },
        title: {
          display: true, text: title, color: '#1a1a1a',
          font: { family: FONT, size: 14, weight: 'normal' },
          padding: { top: 3.2, bottom: 4 }
        },
        frame: { counts: panelCounts[i] }
      },
      scales: {
        x: {
          type: 'linear', min: -0.00885, max: 0.1786,
          afterBuildTicks: s => { s.ticks = xTicks.map(v => ({ value: v })); },
          afterFit: s => { s.height = AXH; },
          border: { display: false },
          grid: { color: '#ebebeb', lineWidth: 1.2, drawTicks: row === 2, tickLength: 4, tickColor: '#333' },
          ticks: {
            display: row === 2, padding: 2, color: '#4d4d4d', maxRotation: 0,
            font: { family: FONT, size: 14 },
            callback: v => v.toFixed(1)
          }
        },
        y: {
          type: 'linear', min: -0.0254, max: 0.5654,
          afterBuildTicks: s => { s.ticks = yTicks.map(v => ({ value: v })); },
          afterFit: s => { s.width = AXW; },
          border: { display: false },
          grid: { color: '#ebebeb', lineWidth: 1.2, drawTicks: col === 0, tickLength: 4, tickColor: '#333' },
          ticks: {
            display: col === 0, padding: 3, color: '#4d4d4d',
            font: { family: FONT, size: 14 },
            callback: v => v.toFixed(1)
          }
        }
      }
    },
    plugins: [frame]
  });
});

// ---- axis titles ----
function addText(txt, left, top, size, extra) {
  const d = document.createElement('div');
  d.className = 'txt';
  d.textContent = txt;
  d.style.left = left + 'px';
  d.style.top = top + 'px';
  d.style.fontSize = size + 'px';
  d.style.lineHeight = size + 'px';
  if (extra) Object.assign(d.style, extra);
  wrap.appendChild(d);
  return d;
}
addText('Variance explained by disease status', 124, 906, 17.5,
        { width: '600px', textAlign: 'center' });
addText('Variance explained by metadata variable', 22 - 300, 459 - 9, 17.5,
        { width: '600px', textAlign: 'center', transform: 'rotate(-90deg)' });

// ---- legends ----
addText('Trimmed mean abundance', 78, 942, 15);
const sizePos = [[111, 981], [111, 1003], [181, 981], [181, 1003]];
sizeBreaks.forEach((b, k) => {
  const r = radius(b);
  const d = document.createElement('div');
  d.className = 'dot';
  d.style.background = '#000';
  d.style.width = d.style.height = (2 * r) + 'px';
  d.style.left = (sizePos[k][0] - r) + 'px';
  d.style.top = (sizePos[k][1] - r) + 'px';
  wrap.appendChild(d);
  addText(sizeLabels[k], sizePos[k][0] + 15, sizePos[k][1] - 6, 12);
});

addText('Significance (FDR < 1e-05)', 598, 942, 15);
const sigColors = [GRAY, RED];
sigLabels.forEach((lab, k) => {
  const cy = 972 + k * 25, r = 5.5;
  const d = document.createElement('div');
  d.className = 'dot';
  d.style.background = sigColors[k];
  d.style.width = d.style.height = (2 * r) + 'px';
  d.style.left = (666 - r) + 'px';
  d.style.top = (cy - r) + 'px';
  wrap.appendChild(d);
  addText(lab, 686, cy - 6, 12);
});
</script>
</body>
</html>
